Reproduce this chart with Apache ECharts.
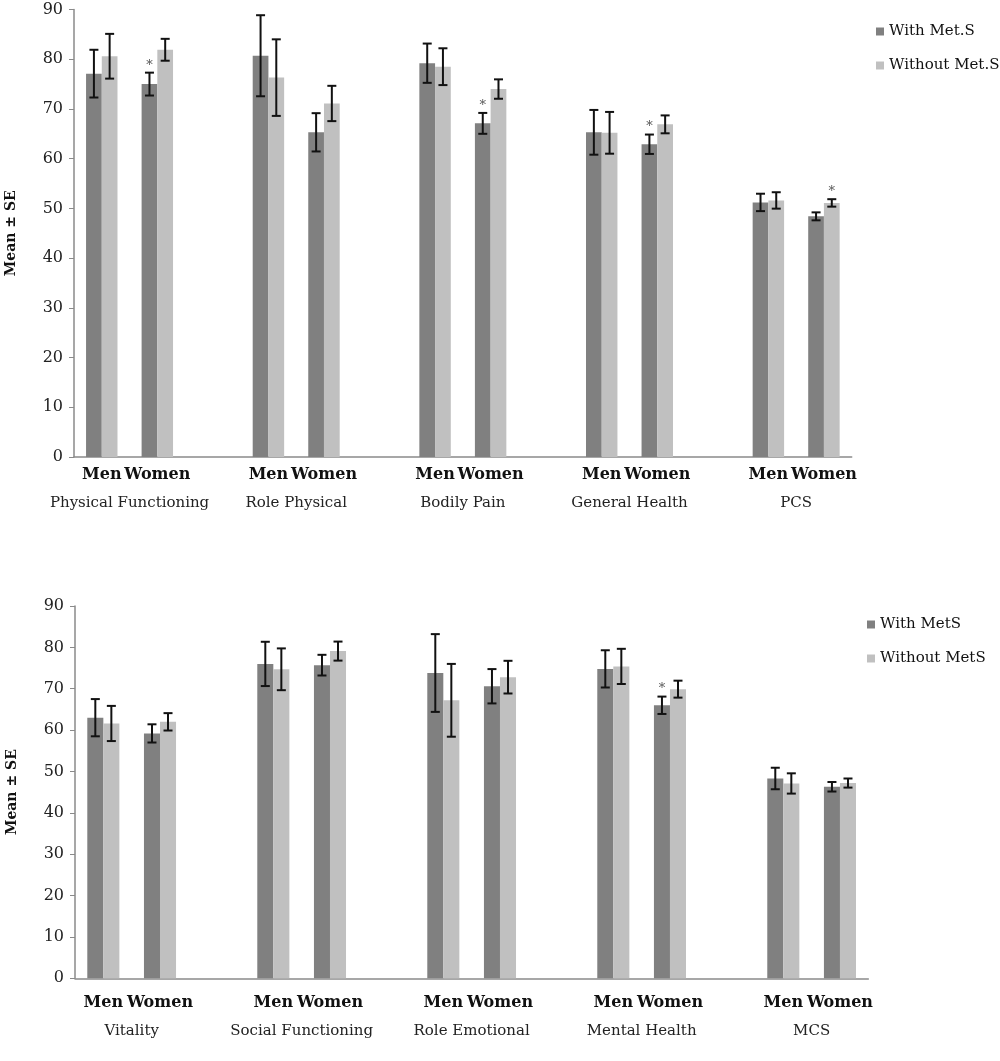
<!DOCTYPE html>
<html><head><meta charset="utf-8">
<script src="https://cdn.jsdelivr.net/npm/echarts@6/dist/echarts.min.js"></script>
<style>html,body{margin:0;padding:0;background:#fff}#c{width:1000px;height:1061px}</style>
</head><body><div id="c"></div>
<script>
// ---------- data ----------
const sexLabels = ['Men', 'Women'];
const topGroups = ['Physical Functioning', 'Role Physical', 'Bodily Pain', 'General Health', 'PCS'];
const botGroups = ['Vitality', 'Social Functioning', 'Role Emotional', 'Mental Health', 'MCS'];
const yTicks = [0, 10, 20, 30, 40, 50, 60, 70, 80, 90];
const topSeriesNames = ['With Met.S', 'Without Met.S'];
const botSeriesNames = ['With MetS', 'Without MetS'];
// order: group1 Men, group1 Women, group2 Men, ...
const topWith       = [77.1, 75.0, 80.7, 65.3, 79.2, 67.1, 65.3, 62.9, 51.2, 48.4];
const topWithSE     = [4.8, 2.3, 8.15, 3.85, 3.95, 2.1, 4.5, 1.95, 1.75, 0.8];
const topWithStar   = [0, 1, 0, 0, 0, 1, 0, 1, 0, 0];
const topWithout    = [80.6, 81.9, 76.3, 71.1, 78.5, 74.0, 65.2, 66.9, 51.6, 51.1];
const topWithoutSE  = [4.5, 2.2, 7.7, 3.55, 3.7, 1.95, 4.2, 1.8, 1.65, 0.75];
const topWithoutStar= [0, 0, 0, 0, 0, 0, 0, 0, 0, 1];
const botWith       = [63.0, 59.2, 76.0, 75.7, 73.8, 70.6, 74.8, 66.0, 48.3, 46.3];
const botWithSE     = [4.5, 2.2, 5.35, 2.5, 9.4, 4.15, 4.5, 2.1, 2.6, 1.15];
const botWithStar   = [0, 0, 0, 0, 0, 0, 0, 1, 0, 0];
const botWithout    = [61.6, 62.0, 74.7, 79.1, 67.2, 72.8, 75.4, 69.9, 47.1, 47.2];
const botWithoutSE  = [4.25, 2.1, 5.05, 2.3, 8.8, 3.95, 4.25, 2.05, 2.45, 1.1];
const botWithoutStar= [0, 0, 0, 0, 0, 0, 0, 0, 0, 0];

// ---------- helpers ----------
const NG = 5, NSLOT = NG * 3 - 1;
const slotCats = [];
for (let g = 0; g < NG; g++) { slotCats.push(sexLabels[0], sexLabels[1]); if (g < NG - 1) slotCats.push(''); }
function slotIndex(k) { return Math.floor(k / 2) * 3 + (k % 2); }
function toSlots(arr) { const out = new Array(NSLOT).fill('-'); arr.forEach((v, k) => out[slotIndex(k)] = v); return out; }
function errData(means, ses, stars) { return means.map((m, k) => [slotIndex(k), m, ses[k], stars[k]]); }
const BARFRAC = 0.283;
const DARK = '#808080', LIGHT = '#c0c0c0', AXIS = '#8a8a8a';
const SERIF = 'DejaVu Serif';

function errRender(sign) {
  return function (params, api) {
    const idx = api.value(0), m = api.value(1), se = api.value(2), star = api.value(3);
    const band = api.size([1, 0])[0];
    const off = sign * band * BARFRAC / 2;
    const t = api.coord([idx, m + se]), b = api.coord([idx, m - se]);
    const x = t[0] + off, cw = 4.5;
    const st = { stroke: '#111', lineWidth: 2 };
    const ch = [
      { type: 'line', shape: { x1: x, y1: t[1], x2: x, y2: b[1] }, style: st },
      { type: 'line', shape: { x1: x - cw, y1: t[1], x2: x + cw, y2: t[1] }, style: st },
      { type: 'line', shape: { x1: x - cw, y1: b[1], x2: x + cw, y2: b[1] }, style: st }
    ];
    if (star) ch.push({ type: 'text', style: { text: '*', x: x, y: t[1] - 1, align: 'center', verticalAlign: 'bottom', fill: '#555', font: '13px "DejaVu Serif"' } });
    return { type: 'group', children: ch };
  };
}

function xAxesFor(gi, groups, sexMargin, grpMargin) {
  return [
    { type: 'category', gridIndex: gi, data: slotCats, boundaryGap: true,
      axisLine: { lineStyle: { color: AXIS, width: 1.5 } }, axisTick: { show: false },
      axisLabel: { interval: 0, margin: sexMargin, color: '#111', fontFamily: SERIF, fontWeight: 'bold', fontSize: 16 } },
    { type: 'value', gridIndex: gi, min: 0, max: NSLOT, position: 'bottom',
      axisLine: { show: false }, axisTick: { show: false }, splitLine: { show: false },
      axisLabel: { customValues: groups.map((g, i) => i * 3 + 1), margin: grpMargin, color: '#222', fontFamily: SERIF, fontSize: 15,
        formatter: v => groups[Math.round((v - 1) / 3)] || '' } }
  ];
}
function yAxisFor(gi) {
  return { type: 'value', gridIndex: gi, min: yTicks[0], max: yTicks[yTicks.length - 1], interval: yTicks[1] - yTicks[0],
    name: 'Mean ± SE', nameLocation: 'middle', nameRotate: 90, nameGap: 56,
    nameTextStyle: { fontFamily: SERIF, fontWeight: 'bold', fontSize: 14, color: '#111' },
    axisLine: { show: true, lineStyle: { color: AXIS, width: 1.5 } },
    axisTick: { show: true, length: 5, lineStyle: { color: AXIS } },
    splitLine: { show: false },
    axisLabel: { margin: 11, color: '#222', fontFamily: SERIF, fontSize: 16 } };
}
function barSeries(name, data, color, xi, yi) {
  return { type: 'bar', name, xAxisIndex: xi, yAxisIndex: yi, data: toSlots(data), barWidth: (BARFRAC * 100) + '%', barGap: '0%',
    itemStyle: { color }, emphasis: { disabled: true } };
}
function errSeries(means, ses, stars, sign, xi, yi) {
  return { type: 'custom', xAxisIndex: xi, yAxisIndex: yi, data: errData(means, ses, stars), encode: { x: 0, y: 1 },
    renderItem: errRender(sign), z: 5, silent: true };
}

const chart = echarts.init(document.getElementById('c'), null, { renderer: 'canvas' });
chart.setOption({
  animation: false,
  backgroundColor: '#fff',
  grid: [
    { left: 74, top: 9.5, width: 777.7, height: 447.5, containLabel: false, outerBoundsMode: 'none' },
    { left: 75, top: 606, width: 793.3, height: 372.3, containLabel: false, outerBoundsMode: 'none' }
  ],
  legend: [
    { data: topSeriesNames, left: 871, top: 19, orient: 'vertical', icon: 'rect', itemWidth: 8, itemHeight: 8, itemGap: 19,
      textStyle: { fontFamily: SERIF, fontSize: 15, color: '#111' } },
    { data: botSeriesNames, left: 862, top: 612, orient: 'vertical', icon: 'rect', itemWidth: 8, itemHeight: 8, itemGap: 19,
      textStyle: { fontFamily: SERIF, fontSize: 15, color: '#111' } }
  ],
  xAxis: [].concat(xAxesFor(0, topGroups, 10, 39), xAxesFor(1, botGroups, 17, 45)),
  yAxis: [yAxisFor(0), yAxisFor(1)],
  series: [
    barSeries(topSeriesNames[0], topWith, DARK, 0, 0),
    barSeries(topSeriesNames[1], topWithout, LIGHT, 0, 0),
    errSeries(topWith, topWithSE, topWithStar, -1, 0, 0),
    errSeries(topWithout, topWithoutSE, topWithoutStar, 1, 0, 0),
    barSeries(botSeriesNames[0], botWith, DARK, 2, 1),
    barSeries(botSeriesNames[1], botWithout, LIGHT, 2, 1),
    errSeries(botWith, botWithSE, botWithStar, -1, 2, 1),
    errSeries(botWithout, botWithoutSE, botWithoutStar, 1, 2, 1)
  ]
});
</script></body></html>
